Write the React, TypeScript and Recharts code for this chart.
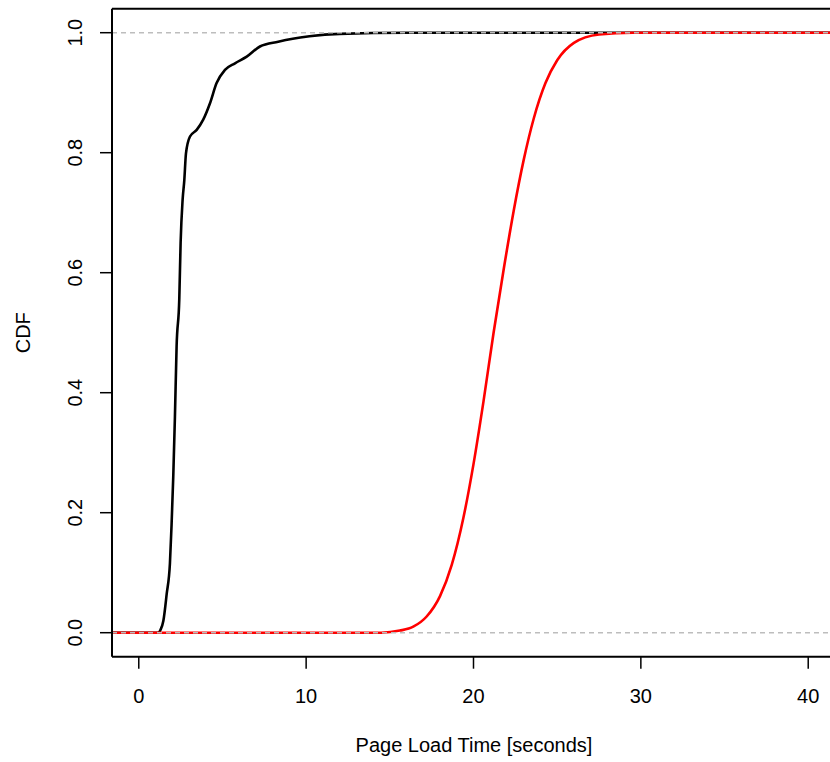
import React from 'react';
import {
  ComposedChart,
  Line,
  XAxis,
  YAxis,
  ReferenceLine,
} from 'recharts';

// page load time ECDF (black) and model CDF (red)
const blackTime = [-5, 1.17, 1.3, 1.47, 1.67, 1.86, 1.96, 2.06, 2.16, 2.26, 2.42, 2.5, 2.62, 2.72, 2.82, 3.06, 3.46, 3.85, 4.25, 4.65, 5.15, 5.75, 6.45, 7.24, 8.33, 9.2, 10.2, 12, 16, 45];
const blackCdf = [0, 0, 0.005, 0.02, 0.065, 0.115, 0.18, 0.26, 0.36, 0.477, 0.556, 0.65, 0.722, 0.754, 0.799, 0.827, 0.838, 0.855, 0.882, 0.916, 0.938, 0.949, 0.96, 0.977, 0.985, 0.99, 0.994, 0.998, 1, 1];

const redTime = [-5, 14.5, 15.6, 16.4, 17.2, 18.0, 18.7, 19.4, 20.0, 20.6, 21.2, 21.8, 22.4, 23.0, 23.6, 24.3, 25.0, 26.0, 27.5, 29.5, 32, 45];
const redCdf = [0, 0, 0.0035, 0.01, 0.027, 0.061, 0.113, 0.192, 0.281, 0.386, 0.5, 0.605, 0.703, 0.788, 0.857, 0.916, 0.954, 0.983, 0.997, 1, 1, 1];

const xTicks = [0, 10, 20, 30, 40];
const yTicks = [0, 0.2, 0.4, 0.6, 0.8, 1.0];

const xDomain = [-1.6, 41.66];
const yDomain = [-0.04, 1.04];

const blackData = blackTime.map((t, i) => ({ t, cdf: blackCdf[i] }));
const redData = redTime.map((t, i) => ({ t, cdf: redCdf[i] }));

const FONT = '"Liberation Sans", Arial, Helvetica, sans-serif';

const XTick = (props: any) => {
  const { x, y, payload } = props;
  return (
    <text x={x} y={y + 32} textAnchor="middle" fontSize={20} fontFamily={FONT} fill="#000">
      {payload.value}
    </text>
  );
};

const YTick = (props: any) => {
  const { x, y, payload } = props;
  const bx = x - 15.5;
  return (
    <text
      x={bx}
      y={y}
      transform={`rotate(-90, ${bx}, ${y})`}
      textAnchor="middle"
      fontSize={20}
      fontFamily={FONT}
      fill="#000"
    >
      {Number(payload.value).toFixed(1)}
    </text>
  );
};

export default function App() {
  return (
    <div
      style={{
        position: 'absolute',
        left: 0,
        top: 0,
        width: 830,
        height: 762,
        overflow: 'hidden',
        background: '#fff',
      }}
    >
      <ComposedChart
        width={836}
        height={762}
        margin={{ top: 8.7, right: 0, bottom: 0, left: 0 }}
      >
        <XAxis
          type="number"
          dataKey="t"
          domain={xDomain}
          ticks={xTicks}
          allowDataOverflow
          height={105.3}
          tickSize={12}
          tick={<XTick />}
          axisLine={{ stroke: '#000', strokeWidth: 2 }}
          tickLine={{ stroke: '#000', strokeWidth: 1.5 }}
          label={{
            value: 'Page Load Time [seconds]',
            position: 'insideBottom',
            offset: 10,
            style: { fontSize: 20, fontFamily: FONT, fill: '#000' },
          }}
        />
        <YAxis
          type="number"
          domain={yDomain}
          ticks={yTicks}
          allowDataOverflow
          width={112}
          tickSize={12}
          tick={<YTick />}
          axisLine={{ stroke: '#000', strokeWidth: 2 }}
          tickLine={{ stroke: '#000', strokeWidth: 1.5 }}
          label={{
            value: 'CDF',
            angle: -90,
            position: 'insideLeft',
            offset: 23,
            style: { fontSize: 20, fontFamily: FONT, fill: '#000', textAnchor: 'middle' },
          }}
        />
        <ReferenceLine y={yDomain[1]} stroke="#000" strokeWidth={2} />
        <Line
          data={blackData}
          dataKey="cdf"
          type="monotone"
          stroke="#000"
          strokeWidth={2.6}
          dot={false}
          isAnimationActive={false}
        />
        <Line
          data={redData}
          dataKey="cdf"
          type="monotone"
          stroke="#ff0000"
          strokeWidth={2.6}
          dot={false}
          isAnimationActive={false}
        />
        <ReferenceLine y={0} stroke="#bdbdbd" strokeWidth={1.6} strokeDasharray="5 4" />
        <ReferenceLine y={1} stroke="#bdbdbd" strokeWidth={1.6} strokeDasharray="5 4" />
      </ComposedChart>
    </div>
  );
}
